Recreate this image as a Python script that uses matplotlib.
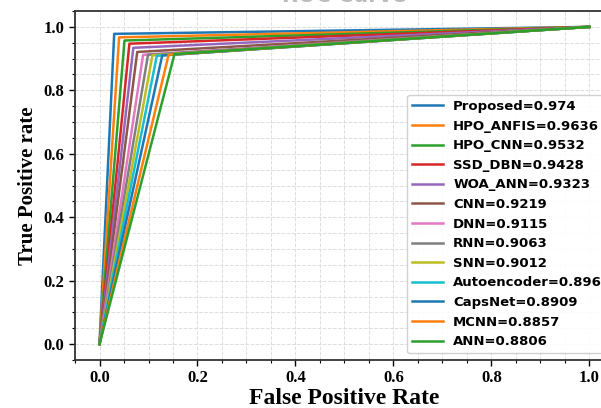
import numpy as np
import matplotlib.pyplot as plt
from matplotlib.ticker import MultipleLocator

# model names and AUC values shown in the legend
models = ['Proposed', 'HPO_ANFIS', 'HPO_CNN', 'SSD_DBN', 'WOA_ANN', 'CNN', 'DNN',
          'RNN', 'SNN', 'Autoencoder', 'CapsNet', 'MCNN', 'ANN']
auc = ['0.974', '0.9636', '0.9532', '0.9428', '0.9323', '0.9219', '0.9115',
       '0.9063', '0.9012', '0.896', '0.8909', '0.8857', '0.8806']

# corner point of each ROC curve
fpr_pt = [0.030, 0.040, 0.051, 0.061, 0.069, 0.077, 0.089, 0.099, 0.108, 0.117, 0.128, 0.141, 0.153]
tpr_pt = [0.978, 0.967, 0.957, 0.947, 0.934, 0.921, 0.912, 0.912, 0.910, 0.909, 0.910, 0.912, 0.914]

colors = plt.rcParams['axes.prop_cycle'].by_key()['color']

fig = plt.figure(figsize=(6.01, 4.08), dpi=100)
ax = fig.add_axes([0.1248, 0.1176, 0.8968, 0.8554])

for i in range(len(models)):
    ax.plot([0, fpr_pt[i], 1], [0, tpr_pt[i], 1], color=colors[i % 10], lw=1.8,
            label=models[i] + '=' + auc[i])

ax.set_xlim(-0.05, 1.05)
ax.set_ylim(-0.05, 1.05)
ax.xaxis.set_major_locator(MultipleLocator(0.2))
ax.yaxis.set_major_locator(MultipleLocator(0.2))
ax.xaxis.set_minor_locator(MultipleLocator(0.05))
ax.yaxis.set_minor_locator(MultipleLocator(0.05))
ax.grid(True, which='both', color='#dddddd', ls='--', lw=0.7)
ax.set_axisbelow(True)

for sp in ax.spines.values():
    sp.set_linewidth(1.3)
    sp.set_color('#333333')
ax.tick_params(which='major', length=4, width=1)
ax.tick_params(which='minor', length=2.5, width=0.8)

for lab in ax.get_xticklabels() + ax.get_yticklabels():
    lab.set_fontfamily('Liberation Serif')
    lab.set_fontweight('bold')
    lab.set_fontsize(12)

ax.set_xlabel('False Positive Rate', fontfamily='Liberation Serif', fontweight='bold',
              fontsize=17, labelpad=1)
ax.set_ylabel('True Positive rate', fontfamily='Liberation Serif', fontweight='bold', fontsize=15)

# title is almost entirely cropped off in the reference
fig.text(0.572, 0.994, 'ROC Curve', ha='center', va='baseline', fontsize=15,
         fontweight='bold', color='#bbbbbb')

ax.legend(loc='lower right', prop={'weight': 'bold', 'size': 9.5}, framealpha=0.9,
          handlelength=2.3)

plt.savefig('out.png', dpi=100)
